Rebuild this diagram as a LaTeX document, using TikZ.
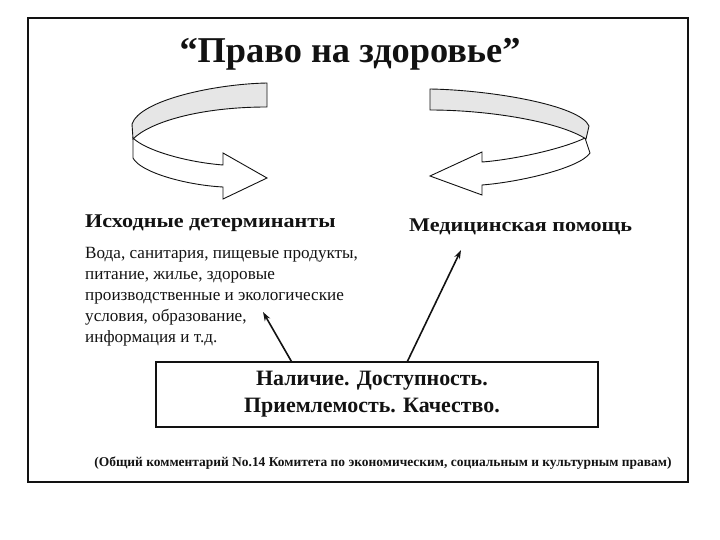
\documentclass[tikz,border=0pt]{standalone}
\usepackage{fontspec}
\setmainfont{Liberation Serif}
\newfontfamily\headfont[FakeStretch=1.14]{Liberation Serif}
\usetikzlibrary{arrows.meta,positioning}
\definecolor{ribbongray}{RGB}{230,230,230}
\definecolor{ink}{RGB}{18,18,18}

\begin{document}
\begin{tikzpicture}[x=1bp,y=-1bp]
  \useasboundingbox (0,0) rectangle (720,540);
  \draw[line width=1.3pt,color=ink] (28,18) rectangle (688,482);

  \node[anchor=base,color=ink,font=\fontsize{36.5}{42}\selectfont\bfseries] (title) at (350,63) {“Право на здоровье”};

  % left curl
  \filldraw[fill=white,draw=ink,line width=0.9pt] (133,138) .. controls (145,150) and (185,162) .. (223,165) -- (223,153) -- (267,178) -- (223,199) -- (223,187) .. controls (185,185) and (140,172) .. (133,158) -- cycle;
  \filldraw[fill=ribbongray,draw=ink,line width=0.9pt] (267,83) .. controls (215,84) and (140,100) .. (132,124) -- (133,139) .. controls (150,122) and (200,107) .. (267,107) -- cycle;
  % right curl
  \filldraw[fill=white,draw=ink,line width=0.9pt] (585,138) .. controls (560,150) and (510,160) .. (482,162) -- (482,152) -- (430,176) -- (482,195) -- (482,185) .. controls (520,182) and (580,168) .. (590,153) -- cycle;
  \filldraw[fill=ribbongray,draw=ink,line width=0.9pt] (430,89) .. controls (490,90) and (580,105) .. (589,126) -- (586,139) .. controls (560,122) and (490,110) .. (430,110) -- cycle;

  \node[anchor=base west,inner sep=0,color=ink,font=\fontsize{19.5}{22}\headfont\bfseries] (detHead) at (85,228) {Исходные детерминанты};
  \node[inner sep=0,align=left,color=ink,font=\fontsize{17.2}{21}\selectfont,below=15bp of detHead.south west,anchor=north west] (detBody) {Вода, санитария, пищевые продукты,\\питание, жилье, здоровые\\производственные и экологические\\условия, образование,\\информация и т.д.};
  \node[anchor=base west,inner sep=0,color=ink,font=\fontsize{19.5}{22}\headfont\bfseries] (medHead) at (409,232) {Медицинская помощь};

  \node[draw=ink,line width=1.2pt,minimum width=442bp,minimum height=65bp,color=ink] (quality) at (377,394.5) {};
  \node[align=center,color=ink,font=\fontsize{22}{27}\selectfont\bfseries] (qualityText) at ([xshift=-5bp]quality.center) {Наличие. Доступность.\\Приемлемость. Качество.};

  \coordinate (detFoot) at ([xshift=136bp]quality.north west);
  \coordinate (medFoot) at ([xshift=252bp]quality.north west);
  \coordinate (detTip) at (263,312);
  \coordinate (medTip) at (461,250);
  \draw[-{Stealth[length=9bp,width=6bp]},line width=1.6pt,color=ink] (detFoot) -- (detTip);
  \draw[-{Stealth[length=9bp,width=6bp]},line width=1.6pt,color=ink] (medFoot) -- (medTip);

  \node[anchor=base,color=ink,font=\fontsize{13.5}{16}\selectfont\bfseries] (source) at (383,466) {(Общий комментарий No.14 Комитета по экономическим, социальным и культурным правам)};
\end{tikzpicture}
\end{document}
